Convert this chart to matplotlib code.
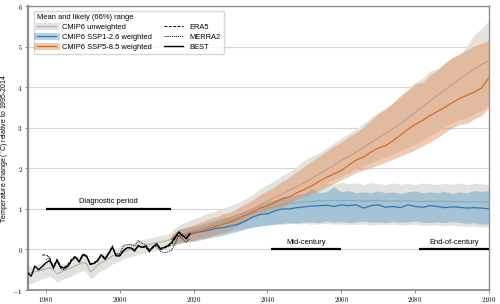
import numpy as np
import matplotlib
matplotlib.use("Agg")
import matplotlib.pyplot as plt
from matplotlib.lines import Line2D
from matplotlib.ticker import FuncFormatter

plt.rcParams['font.family'] = ['Liberation Sans', 'DejaVu Sans']
plt.rcParams['mathtext.fontset'] = 'cm'

# ---------------- data ----------------
hist_years = list(range(1975, 2015))
hist_mean = [-0.58, -0.57, -0.55, -0.53, -0.50, -0.48, -0.45, -0.50, -0.60, -0.56,
             -0.52, -0.48, -0.45, -0.40, -0.36, -0.32, -0.35, -0.55, -0.48, -0.38,
             -0.32, -0.28, -0.22, -0.16, -0.12, -0.10, -0.06, -0.02, 0.00, 0.02,
             0.05, 0.08, 0.10, 0.12, 0.15, 0.17, 0.18, 0.20, 0.22, 0.25]
hist_lo = [-0.86, -0.84, -0.80, -0.76, -0.72, -0.70, -0.66, -0.72, -0.80, -0.76,
           -0.72, -0.68, -0.66, -0.60, -0.56, -0.52, -0.56, -0.72, -0.68, -0.58,
           -0.52, -0.48, -0.42, -0.36, -0.32, -0.28, -0.24, -0.20, -0.18, -0.15,
           -0.12, -0.10, -0.08, -0.06, -0.04, -0.02, 0.00, 0.00, 0.03, 0.08]
hist_hi = [-0.40, -0.42, -0.38, -0.36, -0.32, -0.30, -0.26, -0.32, -0.40, -0.36,
           -0.34, -0.30, -0.26, -0.22, -0.18, -0.14, -0.16, -0.36, -0.30, -0.20,
           -0.14, -0.10, -0.04, 0.02, 0.04, 0.06, 0.10, 0.14, 0.16, 0.18,
           0.22, 0.24, 0.26, 0.28, 0.30, 0.32, 0.34, 0.36, 0.38, 0.42]

fut_years = list(range(2014, 2101, 2))
# CMIP6 unweighted SSP5-8.5
unw85_mean = [0.28, 0.35, 0.40, 0.46, 0.52, 0.58, 0.64, 0.70, 0.78, 0.85,
              0.92, 1.00, 1.10, 1.20, 1.28, 1.36, 1.46, 1.55, 1.65, 1.75,
              1.86, 1.97, 2.08, 2.20, 2.29, 2.40, 2.52, 2.63, 2.75, 2.86,
              2.98, 3.10, 3.24, 3.38, 3.52, 3.66, 3.80, 3.93, 4.06, 4.20,
              4.33, 4.45, 4.56, 4.66]
unw85_lo = [0.10, 0.18, 0.22, 0.26, 0.32, 0.36, 0.42, 0.46, 0.54, 0.64,
            0.74, 0.84, 0.92, 1.00, 1.06, 1.12, 1.22, 1.32, 1.38, 1.46,
            1.54, 1.64, 1.72, 1.82, 1.90, 2.00, 2.06, 2.14, 2.20, 2.28,
            2.36, 2.44, 2.52, 2.60, 2.70, 2.80, 2.90, 3.02, 3.12, 3.20,
            3.24, 3.34, 3.42, 3.60]
unw85_hi = [0.45, 0.60, 0.68, 0.75, 0.82, 0.90, 0.95, 1.02, 1.08, 1.15,
            1.25, 1.35, 1.50, 1.60, 1.70, 1.82, 1.92, 2.05, 2.20, 2.30,
            2.38, 2.50, 2.62, 2.75, 2.85, 2.98, 3.10, 3.25, 3.38, 3.50,
            3.60, 3.75, 3.95, 4.12, 4.22, 4.40, 4.45, 4.60, 4.72, 4.80,
            5.00, 5.30, 5.45, 5.65]
# CMIP6 unweighted SSP1-2.6
unw26_mean = [0.28, 0.34, 0.38, 0.44, 0.50, 0.56, 0.60, 0.66, 0.72, 0.78,
              0.85, 0.90, 0.96, 1.02, 1.06, 1.10, 1.13, 1.15, 1.17, 1.18,
              1.20, 1.20, 1.21, 1.20, 1.21, 1.20, 1.19, 1.20, 1.21, 1.19,
              1.20, 1.19, 1.20, 1.19, 1.18, 1.19, 1.18, 1.19, 1.18, 1.18,
              1.17, 1.18, 1.17, 1.17]
unw26_lo = [0.10, 0.16, 0.20, 0.24, 0.28, 0.32, 0.36, 0.40, 0.44, 0.48,
            0.52, 0.56, 0.58, 0.60, 0.62, 0.62, 0.64, 0.63, 0.64, 0.62,
            0.63, 0.64, 0.62, 0.63, 0.61, 0.62, 0.63, 0.60, 0.62, 0.61,
            0.62, 0.60, 0.61, 0.62, 0.60, 0.59, 0.61, 0.58, 0.60, 0.58,
            0.57, 0.58, 0.55, 0.56]
unw26_hi = [0.45, 0.58, 0.64, 0.70, 0.76, 0.82, 0.88, 0.94, 1.00, 1.06,
            1.12, 1.20, 1.28, 1.36, 1.42, 1.48, 1.52, 1.55, 1.56, 1.62,
            1.58, 1.64, 1.60, 1.66, 1.62, 1.64, 1.60, 1.65, 1.62, 1.60,
            1.64, 1.61, 1.63, 1.60, 1.64, 1.62, 1.60, 1.63, 1.61, 1.64,
            1.60, 1.63, 1.62, 1.60]
# CMIP6 weighted SSP1-2.6
w26_mean = [0.25, 0.33, 0.34, 0.40, 0.44, 0.47, 0.52, 0.54, 0.58, 0.62,
            0.70, 0.80, 0.86, 0.88, 0.95, 1.00, 1.00, 1.03, 1.05, 1.07,
            1.08, 1.09, 1.06, 1.10, 1.08, 1.10, 1.02, 1.08, 1.10, 1.04,
            1.06, 1.03, 1.10, 1.06, 1.04, 1.08, 1.06, 1.03, 1.05, 1.04,
            1.02, 1.03, 1.02, 1.00]
w26_lo = [0.10, 0.15, 0.18, 0.20, 0.24, 0.28, 0.32, 0.35, 0.40, 0.45,
          0.50, 0.55, 0.58, 0.60, 0.62, 0.64, 0.66, 0.65, 0.67, 0.68,
          0.66, 0.70, 0.67, 0.69, 0.66, 0.68, 0.70, 0.67, 0.68, 0.66,
          0.69, 0.67, 0.68, 0.70, 0.67, 0.66, 0.68, 0.66, 0.69, 0.67,
          0.64, 0.66, 0.62, 0.63]
w26_hi = [0.35, 0.50, 0.52, 0.58, 0.62, 0.68, 0.72, 0.78, 0.82, 0.88,
          0.95, 1.02, 1.12, 1.18, 1.22, 1.30, 1.32, 1.35, 1.38, 1.50,
          1.40, 1.42, 1.55, 1.42, 1.45, 1.40, 1.42, 1.40, 1.44, 1.40,
          1.42, 1.38, 1.42, 1.44, 1.40, 1.42, 1.40, 1.43, 1.38, 1.42,
          1.40, 1.45, 1.43, 1.45]
# CMIP6 weighted SSP5-8.5
w85_mean = [0.25, 0.33, 0.36, 0.42, 0.46, 0.52, 0.57, 0.62, 0.68, 0.75,
            0.84, 0.92, 1.02, 1.08, 1.16, 1.25, 1.30, 1.40, 1.48, 1.57,
            1.68, 1.78, 1.86, 1.95, 2.08, 2.20, 2.28, 2.40, 2.50, 2.56,
            2.68, 2.82, 2.96, 3.08, 3.18, 3.30, 3.40, 3.50, 3.62, 3.72,
            3.80, 3.88, 3.98, 4.24]
w85_lo = [0.10, 0.15, 0.20, 0.22, 0.28, 0.30, 0.38, 0.42, 0.48, 0.60,
          0.70, 0.80, 0.88, 0.95, 1.00, 1.05, 1.15, 1.25, 1.30, 1.38,
          1.45, 1.55, 1.62, 1.72, 1.80, 1.90, 1.95, 2.02, 2.08, 2.15,
          2.22, 2.30, 2.38, 2.45, 2.55, 2.65, 2.75, 2.88, 3.00, 3.08,
          3.10, 3.22, 3.30, 3.50]
w85_hi = [0.35, 0.50, 0.55, 0.60, 0.68, 0.75, 0.80, 0.88, 0.92, 1.02,
          1.12, 1.22, 1.35, 1.45, 1.55, 1.68, 1.78, 1.92, 2.05, 2.18,
          2.30, 2.42, 2.55, 2.65, 2.78, 2.88, 3.02, 3.18, 3.35, 3.45,
          3.62, 3.80, 3.92, 4.08, 4.12, 4.30, 4.42, 4.58, 4.73, 4.82,
          4.92, 5.02, 5.08, 5.15]

best_years = list(range(1975, 2020))
best = [-0.57, -0.66, -0.41, -0.50, -0.42, -0.33, -0.27, -0.44, -0.26, -0.44,
        -0.46, -0.40, -0.26, -0.19, -0.31, -0.13, -0.17, -0.36, -0.34, -0.27,
        -0.13, -0.24, -0.10, 0.06, -0.16, -0.16, -0.03, 0.04, 0.04, -0.04,
        0.10, 0.05, 0.08, -0.04, 0.07, 0.14, 0.02, 0.05, 0.09, 0.17,
        0.31, 0.43, 0.34, 0.27, 0.39]
era5_years = list(range(1979, 2020))
era5 = [-0.14, -0.13, -0.20, -0.44, -0.24, -0.42, -0.44, -0.37, -0.23, -0.16,
        -0.29, -0.12, -0.15, -0.37, -0.33, -0.26, -0.12, -0.22, -0.08, 0.09,
        -0.15, -0.14, -0.02, 0.05, 0.05, -0.02, 0.08, 0.05, 0.06, -0.06,
        0.05, 0.12, -0.01, 0.03, 0.07, 0.12, 0.28, 0.42, 0.35, 0.26, 0.38]
merra2_years = list(range(1980, 2020))
merra2 = [-0.25, -0.20, -0.48, -0.30, -0.48, -0.50, -0.42, -0.28, -0.20, -0.30,
          -0.12, -0.15, -0.38, -0.35, -0.30, -0.15, -0.25, -0.12, 0.05, -0.12,
          -0.10, 0.10, 0.12, 0.12, 0.08, 0.22, 0.15, 0.12, 0.00, 0.05,
          0.08, -0.05, -0.08, -0.06, -0.02, 0.15, 0.35, 0.25, 0.18, 0.28]

periods = [("Diagnostic period", 1980, 2014, 1.0),
           ("Mid-century", 2041, 2060, 0.0),
           ("End-of-century", 2081, 2100, 0.0)]

# ---------------- plot ----------------
gray_fill = '#e2e2de'
gray_line = '#b0b0aa'
blue_fill = '#5a9fcc'
blue_line = '#2a78b8'
orange_fill = '#e08a55'
orange_line = '#dc6a24'
band_alpha = 0.45

fig = plt.figure(figsize=(5.0, 3.04), dpi=100)
ax = fig.add_axes([0.055, 0.046, 0.923, 0.934])

ax.fill_between(hist_years, hist_lo, hist_hi, color=gray_fill, lw=0, zorder=1)
ax.fill_between(fut_years, unw85_lo, unw85_hi, color=gray_fill, lw=0, zorder=1)
ax.fill_between(fut_years, unw26_lo, unw26_hi, color=gray_fill, lw=0, zorder=1)
ax.plot(hist_years, hist_mean, color=gray_line, lw=0.8, zorder=2)
ax.plot(fut_years, unw85_mean, color=gray_line, lw=0.8, zorder=2)
ax.plot(fut_years, unw26_mean, color=gray_line, lw=0.8, zorder=2)

ax.fill_between(fut_years, w26_lo, w26_hi, color=blue_fill, alpha=band_alpha, lw=0, zorder=3)
ax.fill_between(fut_years, w85_lo, w85_hi, color=orange_fill, alpha=band_alpha, lw=0, zorder=3)
ax.plot(fut_years, w26_mean, color=blue_line, lw=0.9, zorder=4)
ax.plot(fut_years, w85_mean, color=orange_line, lw=0.9, zorder=4)

ax.plot(best_years, best, color='k', lw=1.0, zorder=6)
ax.plot(era5_years, era5, color='k', lw=0.7, ls=(0, (3, 1.5)), zorder=6)
ax.plot(merra2_years, merra2, color='k', lw=0.7, ls=(0, (1, 1)), zorder=6)

for name, x0, x1, yv in periods:
    ax.plot([x0, x1], [yv, yv], color='k', lw=1.6, solid_capstyle='butt', zorder=7)
    ax.text((x0 + x1) / 2, yv + 0.18, name, ha='center', va='center', fontsize=5.4, zorder=7)

ax.set_xlim(1975, 2100)
ax.set_ylim(-1, 6)
ax.set_xticks(range(1980, 2101, 20))
ax.set_yticks(range(-1, 7))
fmt = FuncFormatter(lambda v, p: r'$%d$' % v)
ax.xaxis.set_major_formatter(fmt)
ax.yaxis.set_major_formatter(fmt)
ax.tick_params(labelsize=5, length=2, width=0.6, color='#808080', pad=1.5)
ax.yaxis.grid(True, color='#d6d6d6', lw=0.8)
ax.set_axisbelow(True)
for s in ax.spines.values():
    s.set_color('#8c8c8c')
    s.set_linewidth(1.0)
ax.spines['left'].set_linewidth(1.6)
ax.spines['bottom'].set_linewidth(1.3)
ax.set_ylabel('Temperature change ($^{\\circ}$C) relative to 1995-2014', fontsize=5.0)
ax.yaxis.set_label_coords(-0.036, 0.5)

h1 = (Line2D([], [], color=gray_fill, lw=5), Line2D([], [], color=gray_line, lw=0.8))
h2 = (Line2D([], [], color=blue_fill, alpha=band_alpha, lw=5), Line2D([], [], color=blue_line, lw=0.9))
h3 = (Line2D([], [], color=orange_fill, alpha=band_alpha, lw=5), Line2D([], [], color=orange_line, lw=0.9))
h4 = Line2D([], [], color='k', lw=0.7, ls=(0, (3, 1.5)))
h5 = Line2D([], [], color='k', lw=0.7, ls=(0, (1, 1)))
h6 = Line2D([], [], color='k', lw=1.0)
leg = ax.legend([h1, h2, h3, h4, h5, h6],
                ['CMIP6 unweighted', 'CMIP6 SSP1-2.6 weighted', 'CMIP6 SSP5-8.5 weighted',
                 'ERA5', 'MERRA2', 'BEST'],
                ncol=2, loc='upper left', bbox_to_anchor=(0.005, 0.995),
                title='Mean and likely (66%) range', title_fontsize=5.4, fontsize=5.4,
                handlelength=2.6, columnspacing=1.6, labelspacing=0.35, borderpad=0.4,
                handletextpad=0.8, fancybox=True, framealpha=0.8, edgecolor='#cccccc')
leg._legend_box.align = 'left'

fig.savefig('out.png', dpi=100)
